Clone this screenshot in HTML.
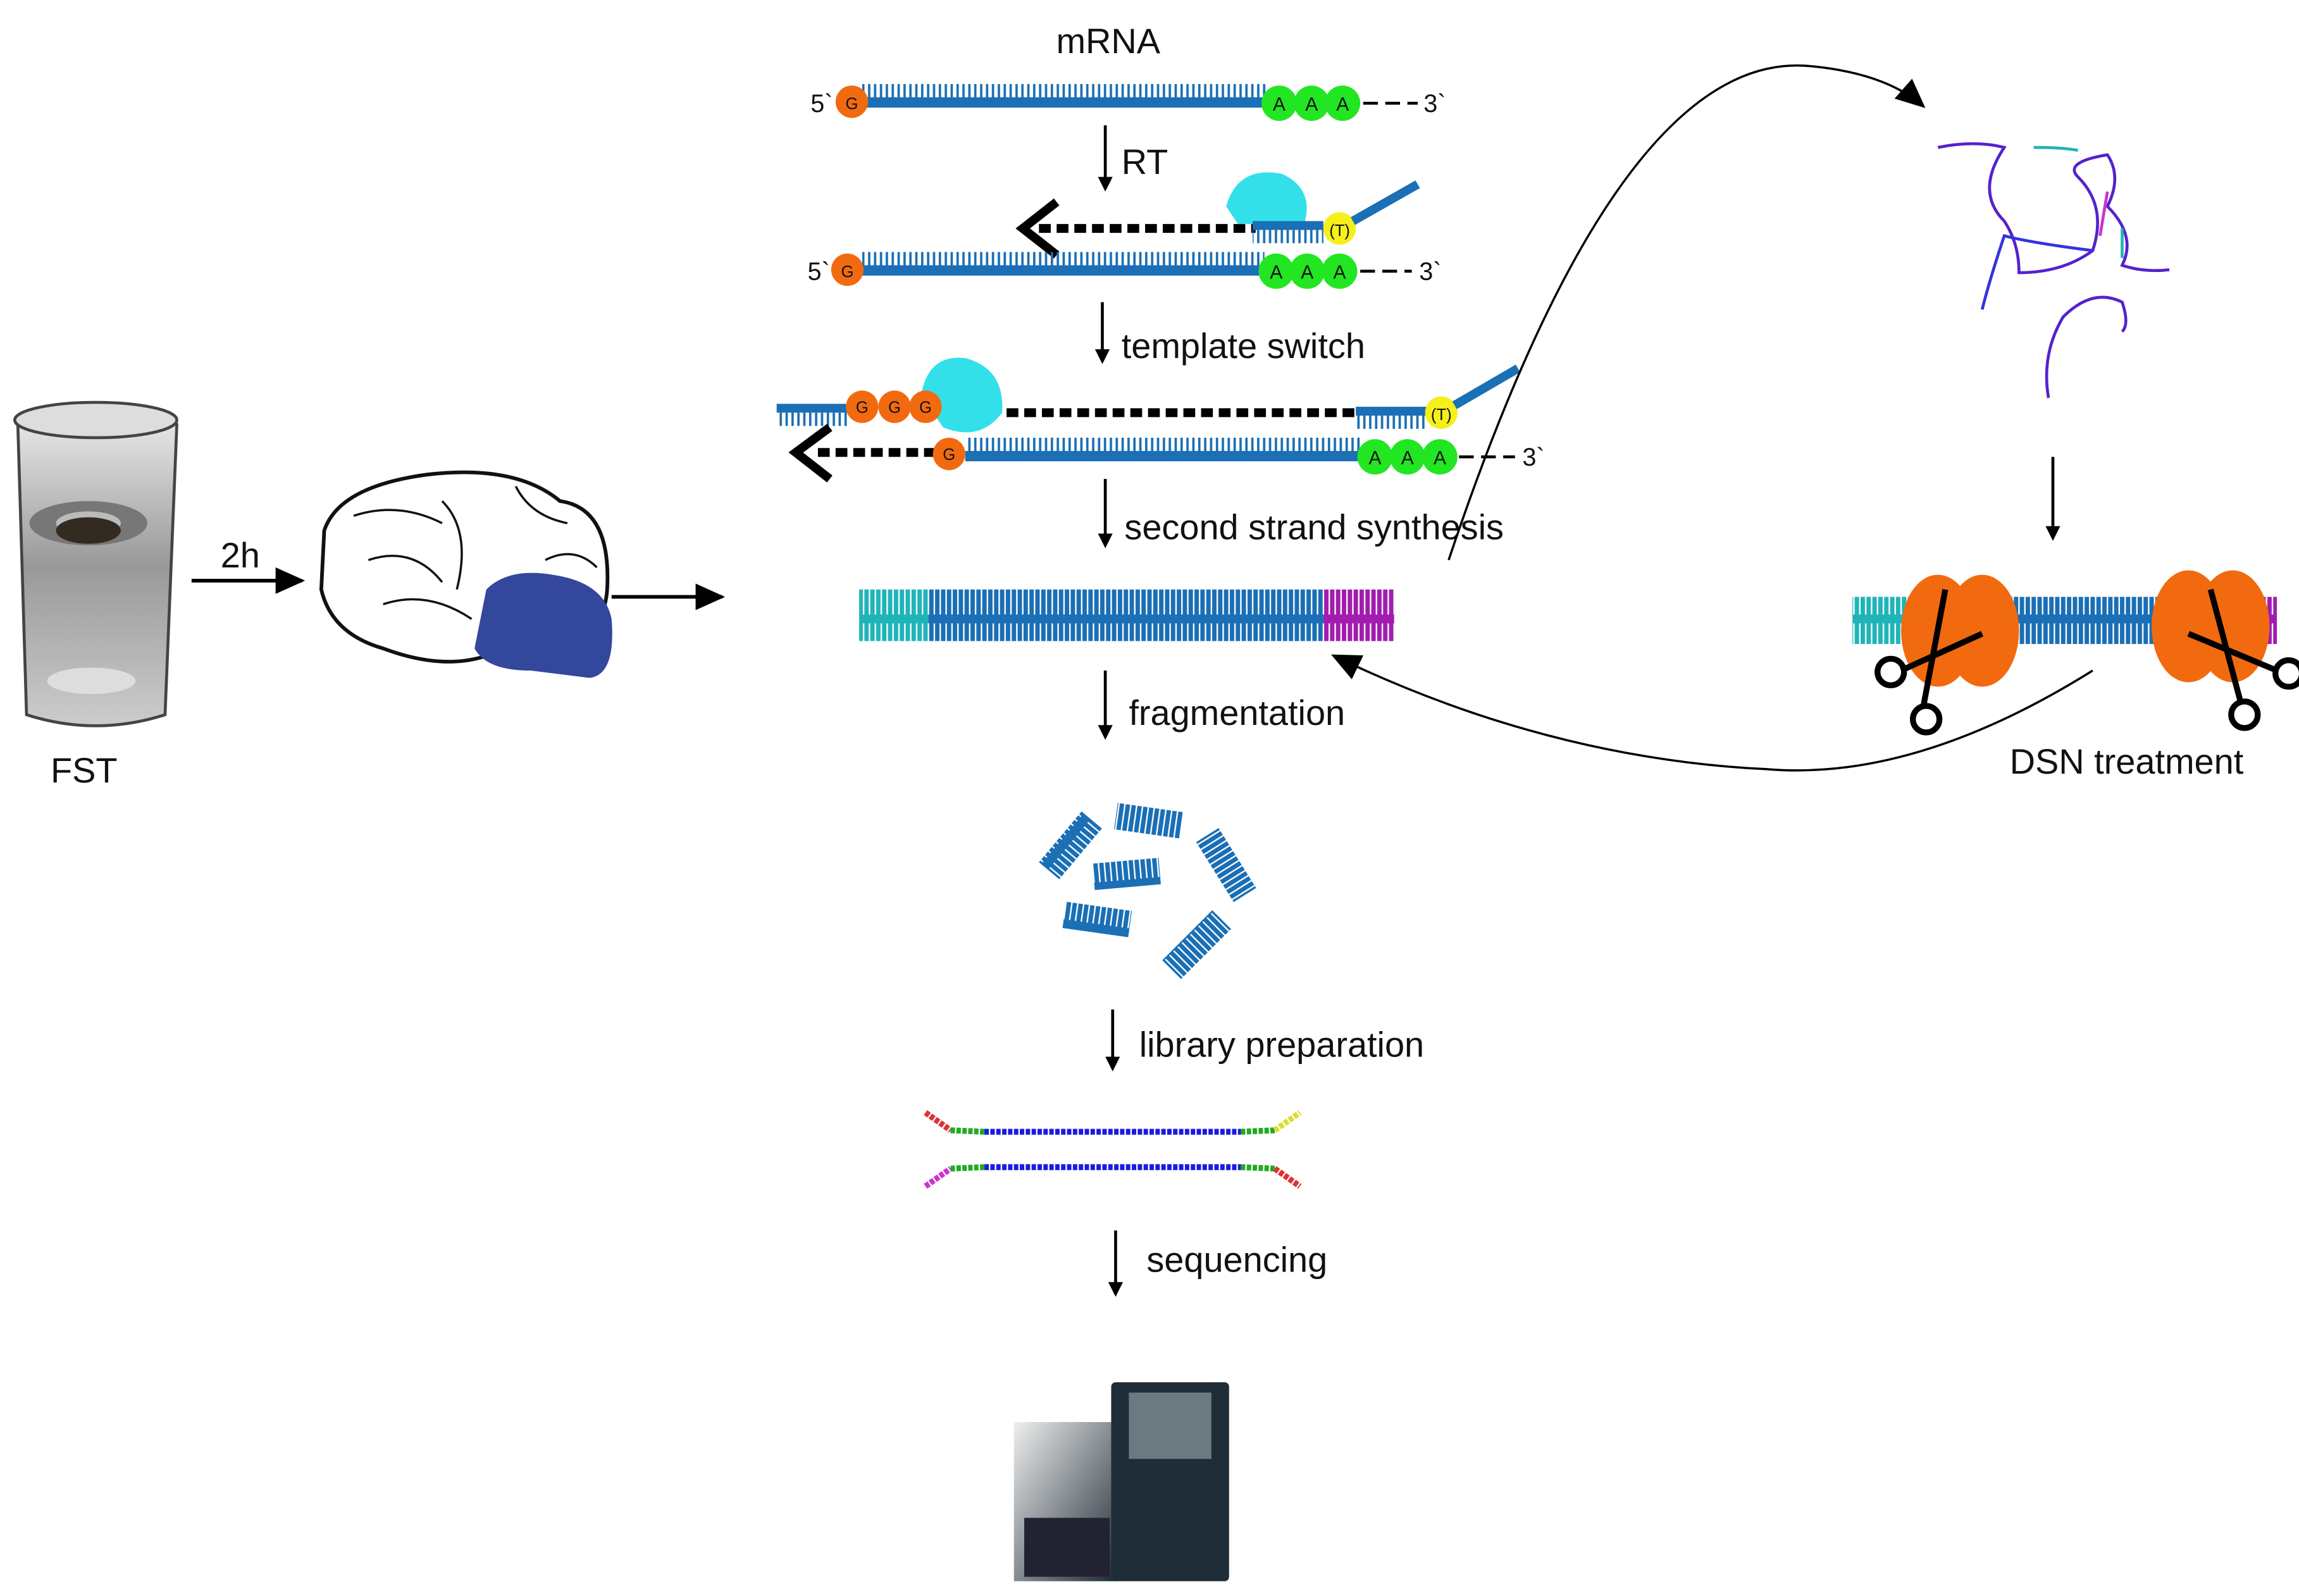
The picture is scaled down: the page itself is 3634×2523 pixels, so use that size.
<!DOCTYPE html>
<html><head><meta charset="utf-8"><style>html,body{margin:0;padding:0;background:#fff}svg{display:block}text{font-family:"Liberation Sans",sans-serif;fill:#111}</style></head>
<body>
<svg width="3634" height="2523" viewBox="0 0 1560 1083" xmlns="http://www.w3.org/2000/svg">
<defs>
<pattern id="tu" width="4" height="10" patternUnits="userSpaceOnUse"><rect x="1" y="0" width="1.6" height="10" fill="#1a6fb5"/></pattern>
<pattern id="tw" width="4" height="30" patternUnits="userSpaceOnUse"><rect width="4" height="30" fill="#1a6fb5"/><rect x="1.5" y="3" width="1" height="24" fill="#fff"/></pattern>
<pattern id="tc" width="4" height="30" patternUnits="userSpaceOnUse"><rect width="4" height="30" fill="#1fb5b8"/><rect x="1.5" y="3" width="1" height="24" fill="#fff"/></pattern>
<pattern id="tm" width="4" height="30" patternUnits="userSpaceOnUse"><rect width="4" height="30" fill="#a21caf"/><rect x="1.5" y="3" width="1" height="24" fill="#fff"/></pattern>
<marker id="ah" markerWidth="10" markerHeight="10" refX="8" refY="5" orient="auto" markerUnits="userSpaceOnUse"><path d="M0,0 L10,5 L0,10 z" fill="#000"/></marker>
<marker id="ahb" markerWidth="20" markerHeight="18" refX="18" refY="9" orient="auto" markerUnits="userSpaceOnUse"><path d="M0,0 L20,9 L0,18 z" fill="#000"/></marker>
<linearGradient id="bk" x1="0" x2="0" y1="0" y2="1"><stop offset="0" stop-color="#eee"/><stop offset="0.5" stop-color="#999"/><stop offset="1" stop-color="#ccc"/></linearGradient>
<linearGradient id="sq" x1="0" x2="1" y1="0" y2="1"><stop offset="0" stop-color="#eee"/><stop offset="1" stop-color="#1d2b35"/></linearGradient>
</defs>
<rect width="1560" height="1083" fill="#fff"/>

<!-- left: beaker -->
<path d="M12,285 Q60,265 120,288 L112,485 Q65,500 18,485 Z" fill="url(#bk)" stroke="#444" stroke-width="2"/>
<ellipse cx="65" cy="285" rx="55" ry="12" fill="#ddd" stroke="#444" stroke-width="2"/>
<ellipse cx="60" cy="355" rx="40" ry="15" fill="#777"/>
<ellipse cx="60" cy="355" rx="22" ry="8" fill="#bbb"/>
<ellipse cx="62" cy="462" rx="30" ry="9" fill="#ddd"/>
<ellipse cx="60" cy="360" rx="22" ry="9" fill="#332a22"/>
<text x="57" y="531" font-size="24" text-anchor="middle">FST</text>
<line x1="130" y1="394" x2="205" y2="394" stroke="#000" stroke-width="2.5" marker-end="url(#ahb)"/>
<text x="163" y="385" font-size="24" text-anchor="middle">2h</text>
<!-- brain -->
<path d="M220,360 Q230,330 290,322 Q350,315 380,340 Q415,345 412,400 Q410,430 380,440 L330,445 Q300,455 260,440 Q225,430 218,400 Z" fill="#fff" stroke="#111" stroke-width="2.5"/>
<path d="M240,350 Q270,340 300,355 M250,380 Q280,370 300,395 M300,340 Q320,360 310,400 M350,330 Q360,350 385,355 M370,380 Q390,370 405,385 M260,410 Q290,400 320,420" fill="none" stroke="#111" stroke-width="1.5"/>
<path d="M330,400 Q345,385 375,390 Q410,395 415,420 Q418,458 400,460 L360,455 Q330,455 322,440 Z" fill="#33479c"/>
<line x1="415" y1="405" x2="490" y2="405" stroke="#000" stroke-width="2.5" marker-end="url(#ahb)"/>

<!-- mRNA row -->
<text x="752" y="36" font-size="24" text-anchor="middle">mRNA</text>
<rect x="585" y="57" width="275" height="10" fill="url(#tu)"/><rect x="585" y="66" width="275" height="7" fill="#1a6fb5"/>
<text x="550" y="76" font-size="17">5`</text>
<circle cx="578" cy="69" r="11" fill="#f26a10"/><text x="578" y="74" font-size="11" text-anchor="middle">G</text>
<g font-size="13" text-anchor="middle"><circle cx="868" cy="70" r="12" fill="#22e622"/><circle cx="890" cy="70" r="12" fill="#22e622"/><circle cx="911" cy="70" r="12" fill="#22e622"/><text x="868" y="75">A</text><text x="890" y="75">A</text><text x="911" y="75">A</text></g>
<line x1="925" y1="70" x2="962" y2="70" stroke="#000" stroke-width="2" stroke-dasharray="10,5"/><text x="966" y="76" font-size="17">3`</text>
<line x1="750" y1="85" x2="750" y2="128" stroke="#000" stroke-width="2" marker-end="url(#ah)"/><text x="761" y="118" font-size="24">RT</text>

<!-- RT row -->
<line x1="705" y1="155" x2="852" y2="155" stroke="#000" stroke-width="6" stroke-dasharray="8,4"/>
<polyline points="717,137 694,155 717,173" fill="none" stroke="#000" stroke-width="6"/>
<path d="M832,140 Q840,112 870,118 Q892,128 885,152 L840,152 Z" fill="#33e0ea"/>
<rect x="850" y="150" width="48" height="6" fill="#1a6fb5"/><rect x="850" y="156" width="48" height="9" fill="url(#tu)"/>
<circle cx="909" cy="155" r="11" fill="#f5ef1a"/><text x="902" y="160" font-size="11">(T)</text>
<line x1="918" y1="150" x2="962" y2="125" stroke="#1a6fb5" stroke-width="6"/>
<rect x="585" y="171" width="273" height="10" fill="url(#tu)"/><rect x="585" y="180" width="273" height="7" fill="#1a6fb5"/>
<text x="548" y="190" font-size="17">5`</text>
<circle cx="575" cy="183" r="11" fill="#f26a10"/><text x="575" y="188" font-size="11" text-anchor="middle">G</text>
<g font-size="13" text-anchor="middle"><circle cx="866" cy="184" r="12" fill="#22e622"/><circle cx="887" cy="184" r="12" fill="#22e622"/><circle cx="909" cy="184" r="12" fill="#22e622"/><text x="866" y="189">A</text><text x="887" y="189">A</text><text x="909" y="189">A</text></g>
<line x1="923" y1="184" x2="958" y2="184" stroke="#000" stroke-width="2" stroke-dasharray="10,5"/><text x="963" y="190" font-size="17">3`</text>
<line x1="748" y1="205" x2="748" y2="245" stroke="#000" stroke-width="2" marker-end="url(#ah)"/><text x="761" y="243" font-size="24">template switch</text>

<!-- template switch row -->
<rect x="527" y="274" width="48" height="6" fill="#1a6fb5"/><rect x="527" y="280" width="48" height="9" fill="url(#tu)"/>
<path d="M625,268 Q630,240 655,243 Q682,250 680,280 Q665,300 640,290 Z" fill="#33e0ea"/>
<g font-size="11" text-anchor="middle"><circle cx="585" cy="276" r="11" fill="#f26a10"/><circle cx="607" cy="276" r="11" fill="#f26a10"/><circle cx="628" cy="276" r="11" fill="#f26a10"/><text x="585" y="280">G</text><text x="607" y="280">G</text><text x="628" y="280">G</text></g>
<line x1="683" y1="280" x2="920" y2="280" stroke="#000" stroke-width="6" stroke-dasharray="8,4"/>
<rect x="920" y="276" width="48" height="6" fill="#1a6fb5"/><rect x="920" y="282" width="48" height="9" fill="url(#tu)"/>
<circle cx="978" cy="280" r="11" fill="#f5ef1a"/><text x="971" y="285" font-size="11">(T)</text>
<line x1="987" y1="275" x2="1030" y2="250" stroke="#1a6fb5" stroke-width="6"/>
<line x1="555" y1="307" x2="635" y2="307" stroke="#000" stroke-width="6" stroke-dasharray="8,4"/>
<polyline points="563,290 540,307 563,325" fill="none" stroke="#000" stroke-width="6"/>
<circle cx="644" cy="308" r="11" fill="#f26a10"/><text x="644" y="312" font-size="11" text-anchor="middle">G</text>
<rect x="655" y="297" width="270" height="10" fill="url(#tu)"/><rect x="655" y="306" width="270" height="7" fill="#1a6fb5"/>
<g font-size="13" text-anchor="middle"><circle cx="933" cy="310" r="12" fill="#22e622"/><circle cx="955" cy="310" r="12" fill="#22e622"/><circle cx="977" cy="310" r="12" fill="#22e622"/><text x="933" y="315">A</text><text x="955" y="315">A</text><text x="977" y="315">A</text></g>
<line x1="990" y1="310" x2="1028" y2="310" stroke="#000" stroke-width="2" stroke-dasharray="10,5"/><text x="1033" y="316" font-size="17">3`</text>
<line x1="750" y1="325" x2="750" y2="370" stroke="#000" stroke-width="2" marker-end="url(#ah)"/><text x="763" y="366" font-size="24">second strand synthesis</text>

<!-- ds DNA -->
<rect x="583" y="400" width="47" height="35" fill="url(#tc)"/>
<rect x="630" y="400" width="268" height="35" fill="url(#tw)"/>
<rect x="898" y="400" width="48" height="35" fill="url(#tm)"/>
<line x1="750" y1="455" x2="750" y2="500" stroke="#000" stroke-width="2" marker-end="url(#ah)"/><text x="766" y="492" font-size="24">fragmentation</text>

<!-- fragments -->
<g>
<rect x="757" y="548" width="45" height="18" fill="url(#tw)" transform="rotate(8 780 557)"/>
<rect x="704" y="565" width="45" height="18" fill="url(#tw)" transform="rotate(-50 726 574)"/>
<rect x="742" y="584" width="45" height="18" fill="url(#tw)" transform="rotate(-5 765 593)"/>
<rect x="808" y="578" width="48" height="18" fill="url(#tw)" transform="rotate(58 832 587)"/>
<rect x="722" y="615" width="45" height="18" fill="url(#tw)" transform="rotate(8 745 624)"/>
<rect x="788" y="632" width="48" height="18" fill="url(#tw)" transform="rotate(-45 812 641)"/>
</g>
<line x1="755" y1="685" x2="755" y2="725" stroke="#000" stroke-width="2" marker-end="url(#ah)"/><text x="773" y="717" font-size="24">library preparation</text>

<!-- library -->
<g stroke-width="4" fill="none" stroke-dasharray="3,1">
<polyline points="628,755 645,767" stroke="#d33"/><polyline points="645,767 668,768" stroke="#2a2"/><line x1="668" y1="768" x2="842" y2="768" stroke="#1a1ae0"/><polyline points="842,768 865,767" stroke="#2a2"/><polyline points="865,767 882,755" stroke="#dd3"/>
<polyline points="628,805 645,793" stroke="#c3c"/><polyline points="645,793 668,792" stroke="#2a2"/><line x1="668" y1="792" x2="842" y2="792" stroke="#1a1ae0"/><polyline points="842,792 865,793" stroke="#2a2"/><polyline points="865,793 882,805" stroke="#d33"/>
</g>
<line x1="757" y1="835" x2="757" y2="878" stroke="#000" stroke-width="2" marker-end="url(#ah)"/><text x="778" y="863" font-size="24">sequencing</text>

<!-- sequencer -->
<rect x="688" y="965" width="70" height="108" fill="url(#sq)"/>
<rect x="754" y="938" width="80" height="135" rx="3" fill="#1e2d38"/>
<rect x="766" y="945" width="56" height="45" fill="#6a7a80"/>
<rect x="695" y="1030" width="58" height="40" fill="#223"/>

<!-- top-right curve -->
<path d="M983,380 Q1100,30 1230,45 Q1280,50 1305,72" fill="none" stroke="#000" stroke-width="1.5" marker-end="url(#ahb)"/>
<!-- tangled -->
<g fill="none" stroke-width="2">
<path d="M1315,100 Q1340,95 1360,100 Q1340,130 1360,150 Q1370,165 1370,185 Q1400,185 1420,170 Q1430,140 1410,120 Q1400,110 1430,105 Q1440,120 1430,140 Q1450,160 1440,180 Q1455,185 1472,183" stroke="#5522cc"/>
<path d="M1380,100 Q1400,100 1410,102" stroke="#1fb5b8"/>
<path d="M1345,210 Q1350,190 1360,160 Q1380,165 1420,170" stroke="#3333dd"/>
<path d="M1390,270 Q1385,240 1400,215 Q1420,195 1440,205 Q1445,220 1440,225" stroke="#5522cc"/>
<path d="M1430,130 L1425,160" stroke="#c3c"/><path d="M1440,155 L1440,175" stroke="#1fb5b8"/>
</g>
<line x1="1393" y1="310" x2="1393" y2="365" stroke="#000" stroke-width="2" marker-end="url(#ah)"/>

<!-- DSN -->
<rect x="1257" y="405" width="40" height="32" fill="url(#tc)"/>
<rect x="1297" y="405" width="240" height="32" fill="url(#tw)"/>
<rect x="1537" y="405" width="8" height="32" fill="url(#tm)"/>
<ellipse cx="1315" cy="428" rx="25" ry="38" fill="#f26a10"/><ellipse cx="1345" cy="428" rx="25" ry="38" fill="#f26a10"/>
<ellipse cx="1485" cy="425" rx="25" ry="38" fill="#f26a10"/><ellipse cx="1515" cy="425" rx="25" ry="38" fill="#f26a10"/>
<g stroke="#000" stroke-width="4" fill="none">
<path d="M1320,400 L1305,480 M1345,430 L1290,455"/><circle cx="1283" cy="456" r="9"/><circle cx="1307" cy="488" r="9"/>
<path d="M1500,400 L1520,475 M1485,430 L1545,455"/><circle cx="1553" cy="457" r="9"/><circle cx="1523" cy="485" r="9"/>
</g>
<text x="1443" y="525" font-size="24" text-anchor="middle">DSN treatment</text>
<path d="M1420,455 Q1300,530 1200,522 Q1050,515 905,445" fill="none" stroke="#000" stroke-width="1.5" marker-end="url(#ahb)"/>
</svg>
</body></html>
